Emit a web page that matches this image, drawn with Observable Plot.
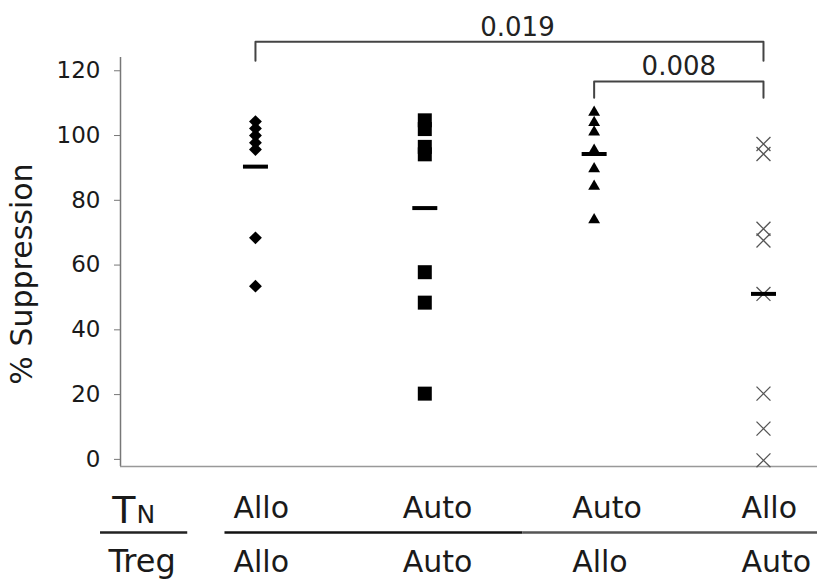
<!DOCTYPE html>
<html><head><meta charset="utf-8">
<script src="https://cdn.jsdelivr.net/npm/d3@7"></script>
<script src="https://cdn.jsdelivr.net/npm/@observablehq/plot@0.6"></script>
<style>body{margin:0;background:#fff;}</style>
</head><body><div id="chart"></div>
<script>
// ---- data ----
const groups = ["Allo/Allo", "Auto/Auto", "Auto/Allo", "Allo/Auto"];
const tnLabels = ["Allo", "Auto", "Auto", "Allo"];
const tregLabels = ["Allo", "Auto", "Allo", "Auto"];
const valuesAlloAllo = [104.3, 102.2, 100, 97.8, 95.7, 68.4, 53.5];
const valuesAutoAuto = [104.7, 102, 96.5, 94.2, 57.8, 48.4, 20.3];
const valuesAutoAllo = [107.2, 104, 101.1, 95.4, 89.7, 84.3, 74];
const valuesAlloAuto = [97.4, 94.3, 71.2, 67.6, 51.1, 20.3, 9.5, -0.3];
const means = [90.4, 77.6, 94.3, 51.1];
const yTicks = [0, 20, 40, 60, 80, 100, 120];
const yLabel = "% Suppression";
const comparisons = [{from: 0, to: 3, p: "0.019"}, {from: 2, to: 3, p: "0.008"}];
const bracketLevels = [129, 116.7];
const bracketDrops = [5.9, 5];

// ---- build tables ----
const seriesValues = [valuesAlloAllo, valuesAutoAuto, valuesAutoAllo, valuesAlloAuto];
const points = seriesValues.map((vals, gi) => vals.map(v => ({gi, group: groups[gi], v})));
const meanRows = means.map((m, gi) => ({gi, m}));
const bracketPts = comparisons.flatMap((c, k) => [
  {k, x: c.from, y: bracketLevels[k] - bracketDrops[k]},
  {k, x: c.from, y: bracketLevels[k]},
  {k, x: c.to, y: bracketLevels[k]},
  {k, x: c.to, y: bracketLevels[k] - bracketDrops[k]}
]);
const bracketText = comparisons.map((c, k) => ({x: (c.from + c.to) / 2, y: bracketLevels[k], p: c.p}));
const idx = d3.range(groups.length);

const xDomain = [-0.797, 3.319];
const yDomain = [-2.2, 124.1];

const meanSymbol = {
  draw(ctx, size) {
    const w = Math.sqrt(size / Math.PI);
    ctx.moveTo(-w, 0); ctx.lineTo(w, 0);
  }
};

const styles = [
  {symbol: "diamond2", r: 5.8, fill: "#000"},
  {symbol: "square", r: 7.9, fill: "#000"},
  {symbol: "triangle", r: 4.4, fill: "#000"},
  {symbol: "times", r: 6.4, stroke: "#555", strokeWidth: 1.3, fill: "none"}
];

const chart = Plot.plot({
  width: 817,
  height: 579,
  marginLeft: 120,
  marginRight: 0,
  marginTop: 57,
  marginBottom: 113,
  style: {fontFamily: "DejaVu Sans", color: "#1a1a1a", background: "#fff"},
  x: {domain: xDomain, axis: null},
  y: {domain: yDomain, axis: null},
  marks: [
    Plot.ruleX([xDomain[0]], {stroke: "#777", strokeWidth: 1.5}),
    Plot.ruleY([yDomain[0]], {stroke: "#999", strokeWidth: 1.5}),
    Plot.axisY({ticks: yTicks, tickSize: 6, tickPadding: 14, fontSize: 23, stroke: "#777", label: null}),
    Plot.text([yLabel], {text: d => d, frameAnchor: "left", rotate: -90, dx: -98, dy: 12, fontSize: 30, textAnchor: "middle", lineAnchor: "middle"}),
    ...points.map((pts, gi) => Plot.dot(pts, {x: "gi", y: "v", ...styles[gi]})),
    Plot.dot(meanRows, {x: "gi", y: "m", symbol: meanSymbol, r: 12.5, stroke: "#000", strokeWidth: 4}),
    Plot.line(bracketPts, {x: "x", y: "y", z: "k", stroke: "#444", strokeWidth: 2}),
    Plot.text(bracketText.slice(0, 1), {x: "x", y: "y", text: "p", dx: 8, dy: -6, lineAnchor: "bottom", fontSize: 26, fill: "#222"}),
    Plot.text(bracketText.slice(1), {x: "x", y: "y", text: "p", dy: -6, lineAnchor: "bottom", fontSize: 26, fill: "#222"}),
    // group labels below the axis
    Plot.text(idx, {x: i => i, text: i => tnLabels[i], frameAnchor: "bottom", lineAnchor: "bottom", textAnchor: "start", dx: -22, dy: 51, fontSize: 30}),
    Plot.text(idx, {x: i => i, text: i => tregLabels[i], frameAnchor: "bottom", lineAnchor: "bottom", textAnchor: "start", dx: -22, dy: 105, fontSize: 30}),
    Plot.text(["T"], {text: d => d, frameAnchor: "bottom-left", lineAnchor: "bottom", textAnchor: "end", dx: 15, dy: 56, fontSize: 38}),
    Plot.text(["N"], {text: d => d, frameAnchor: "bottom-left", lineAnchor: "bottom", textAnchor: "start", dx: 16, dy: 56, fontSize: 25}),
    Plot.text(["Treg"], {text: d => d, frameAnchor: "bottom-left", lineAnchor: "bottom", textAnchor: "start", dx: -12, dy: 105, fontSize: 32}),
    Plot.ruleY([yDomain[0]], {x1: -0.915, x2: -0.40, dy: 66, stroke: "#222", strokeWidth: 2.5}),
    Plot.ruleY([yDomain[0]], {x1: -0.18, x2: 1.58, dy: 66, stroke: "#111", strokeWidth: 2.5}),
    Plot.ruleY([yDomain[0]], {x1: 1.58, x2: xDomain[1], dy: 66, stroke: "#555", strokeWidth: 2.5})
  ]
});
document.getElementById("chart").append(chart);
</script>
</body></html>
